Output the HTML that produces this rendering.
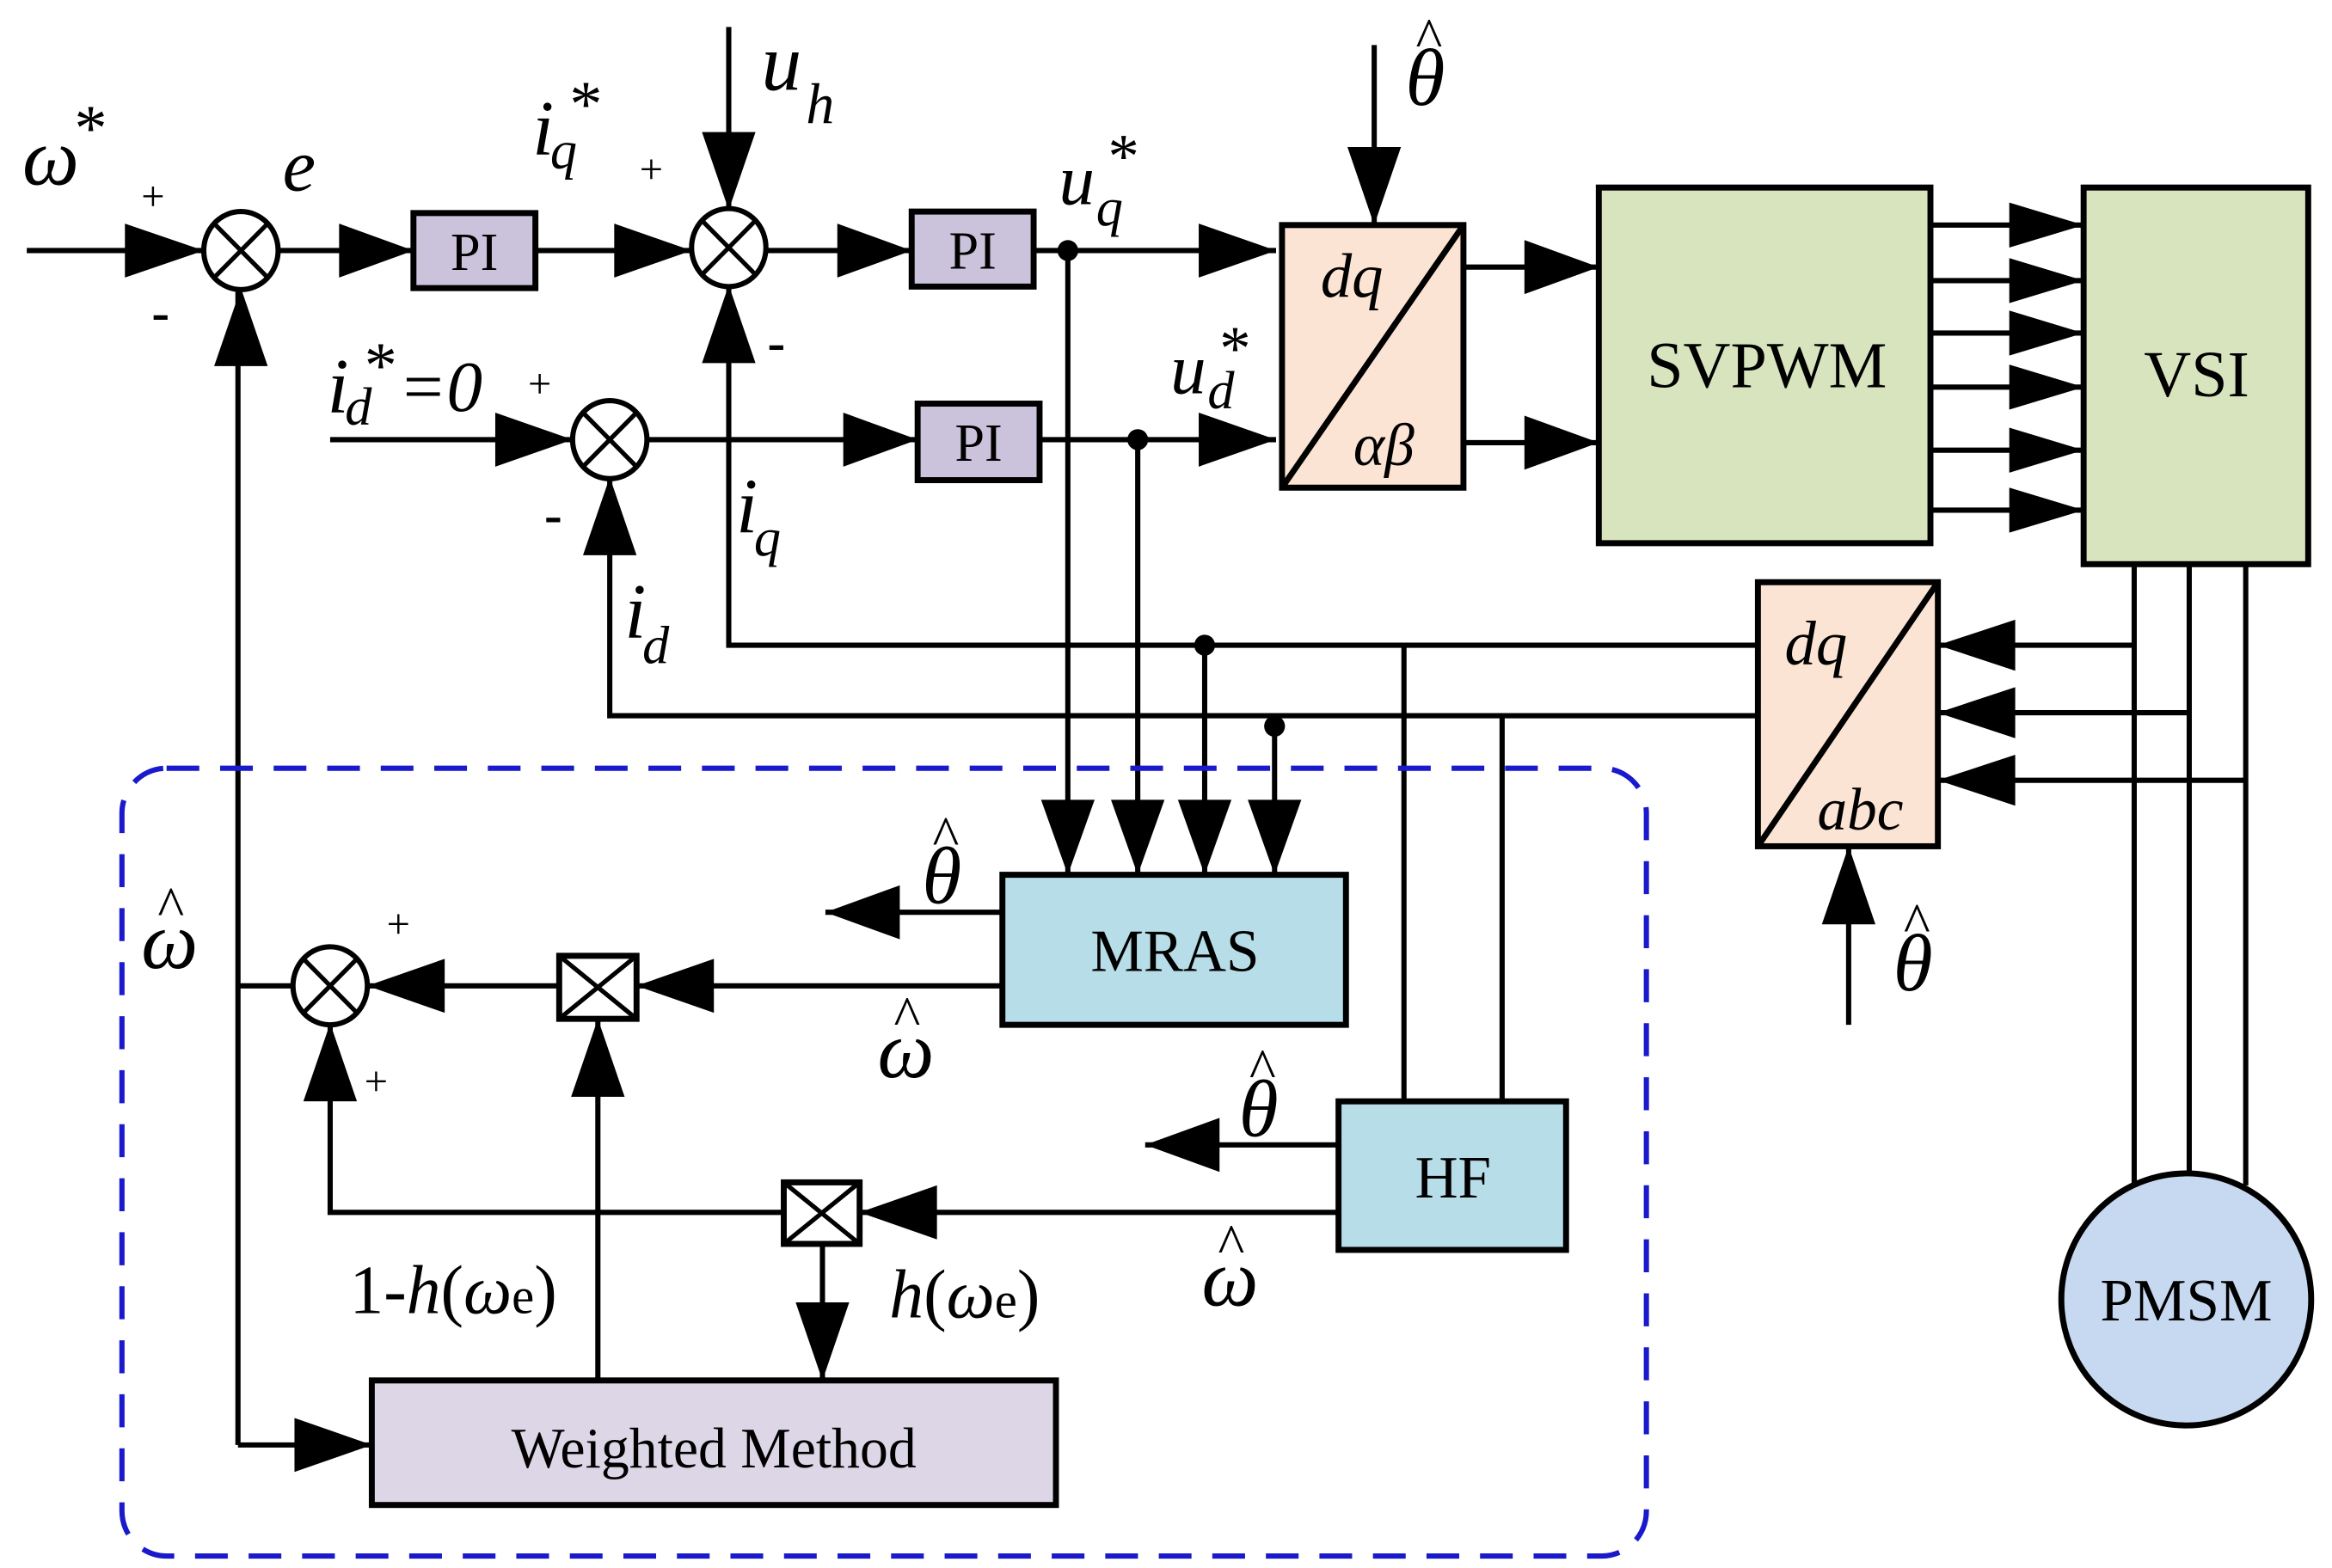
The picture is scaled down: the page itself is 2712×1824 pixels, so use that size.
<!DOCTYPE html>
<html><head><meta charset="utf-8">
<style>
html,body{margin:0;padding:0;background:#fff;}
svg{display:block;}
text{font-family:"Liberation Serif",serif;fill:#000;}
.i{font-style:italic;}
</style></head>
<body>
<svg width="2712" height="1824" viewBox="0 0 1568 1045" preserveAspectRatio="none" xmlns="http://www.w3.org/2000/svg">
<g stroke="#000" stroke-width="3.5" fill="none">
<path d="M18 167H137M187 167H278M360 167H465M515 167H613M695 167H858"/>
<path d="M490 18V140M924 30V150"/>
<path d="M222 293H385M435 293H617M699 293H858"/>
<path d="M984 178H1075M984 295H1075"/>
<path d="M1298 150H1401M1298 187H1401M1298 222H1401M1298 258H1401M1298 300H1401M1298 340H1401"/>
<path d="M1435 376V790M1472 376V782M1510 376V790"/>
<path d="M1435 430H1303M1472 475H1303M1510 520H1303"/>
<path d="M1243 683V564"/>
<path d="M1182 430H490V190M1182 477H410V318"/>
<path d="M718 167V583M765 293V583M810 430V583M857 484V583"/>
<path d="M944 430V734M1010 477V734"/>
<path d="M674 608H555M674 657H428M376 657H247"/>
<path d="M402 920V679"/>
<path d="M900 763H770M900 808H578M527 808H222V682"/>
<path d="M553 829V920"/>
<path d="M197 657H160M160 963V192M160 963H250"/>
</g>
<g fill="#000">
<polygon points="137,167 84,149 84,185"/>
<polygon points="278,167 228,149 228,185"/>
<polygon points="465,167 413,149 413,185"/>
<polygon points="613,167 563,149 563,185"/>
<polygon points="858,167 806,149 806,185"/>
<polygon points="490,140 472,88 508,88"/>
<polygon points="924,150 906,98 942,98"/>
<polygon points="162,192 144,244 180,244"/>
<polygon points="490,190 472,242 508,242"/>
<polygon points="385,293 333,275 333,311"/>
<polygon points="617,293 567,275 567,311"/>
<polygon points="858,293 806,275 806,311"/>
<polygon points="410,318 392,370 428,370"/>
<polygon points="1075,178 1025,160 1025,196"/>
<polygon points="1075,295 1025,277 1025,313"/>
<polygon points="1401,150 1351,135 1351,165"/>
<polygon points="1401,187 1351,172 1351,202"/>
<polygon points="1401,222 1351,207 1351,237"/>
<polygon points="1401,258 1351,243 1351,273"/>
<polygon points="1401,300 1351,285 1351,315"/>
<polygon points="1401,340 1351,325 1351,355"/>
<polygon points="1303,430 1355,413 1355,447"/>
<polygon points="1303,475 1355,458 1355,492"/>
<polygon points="1303,520 1355,503 1355,537"/>
<polygon points="1243,564 1225,616 1261,616"/>
<polygon points="718,583 700,533 736,533"/>
<polygon points="765,583 747,533 783,533"/>
<polygon points="810,583 792,533 828,533"/>
<polygon points="857,583 839,533 875,533"/>
<polygon points="555,608 605,590 605,626"/>
<polygon points="428,657 480,639 480,675"/>
<polygon points="247,657 299,639 299,675"/>
<polygon points="402,679 384,731 420,731"/>
<polygon points="770,763 820,745 820,781"/>
<polygon points="578,808 630,790 630,826"/>
<polygon points="222,682 204,734 240,734"/>
<polygon points="553,920 535,868 571,868"/>
<polygon points="250,963 198,945 198,981"/>
<circle cx="718" cy="167" r="7"/>
<circle cx="765" cy="293" r="7"/>
<circle cx="810" cy="430" r="7"/>
<circle cx="857" cy="484" r="7"/>
</g>
<g stroke="#000" stroke-width="3.5" fill="#fff">
<ellipse cx="162" cy="167" rx="25" ry="26"/>
<ellipse cx="490" cy="165" rx="25" ry="26"/>
<ellipse cx="410" cy="293" rx="25" ry="26"/>
<ellipse cx="222" cy="657" rx="25" ry="26"/>
</g>
<g stroke="#000" stroke-width="3">
<path d="M144 149L180 185M180 149L144 185"/>
<path d="M472 147L508 183M508 147L472 183"/>
<path d="M392 275L428 311M428 275L392 311"/>
<path d="M204 639L240 675M240 639L204 675"/>
</g>
<g stroke="#000" stroke-width="4">
<rect x="278" y="142" width="82" height="50" fill="#cbc3db"/>
<rect x="613" y="141" width="82" height="50" fill="#cbc3db"/>
<rect x="617" y="269" width="82" height="51" fill="#cbc3db"/>
<rect x="862" y="150" width="122" height="175" fill="#fce4d4"/>
<path d="M862 325L984 150" fill="none"/>
<rect x="1075" y="125" width="223" height="237" fill="#d7e4bd"/>
<rect x="1401" y="125" width="151" height="251" fill="#d7e4bd"/>
<rect x="1182" y="388" width="121" height="176" fill="#fce4d4"/>
<path d="M1182 564L1303 388" fill="none"/>
<rect x="674" y="583" width="231" height="100" fill="#b7dde8"/>
<rect x="900" y="734" width="153" height="99" fill="#b7dde8"/>
<rect x="250" y="920" width="460" height="83" fill="#dcd6e6"/>
<circle cx="1470" cy="866" r="84" fill="#c6d9f1"/>
<rect x="376" y="637" width="52" height="42" fill="#fff"/>
<path d="M376 637L428 679M428 637L376 679" fill="none" stroke-width="3"/>
<rect x="527" y="788" width="51" height="41" fill="#fff"/>
<path d="M527 788L578 829M578 788L527 829" fill="none" stroke-width="3"/>
</g>
<rect x="82" y="512" width="1025" height="525" rx="30" ry="30" fill="none" stroke="#1a1acc" stroke-width="3.5" stroke-dasharray="22,14"/>
<g font-size="36">
<text x="319" y="180" text-anchor="middle">PI</text>
<text x="654" y="179" text-anchor="middle">PI</text>
<text x="658" y="307" text-anchor="middle">PI</text>
<text x="1188" y="258" text-anchor="middle" font-size="44">SVPWM</text>
<text x="1477" y="264" text-anchor="middle" font-size="44">VSI</text>
<text x="790" y="647" text-anchor="middle" font-size="40">MRAS</text>
<text x="977" y="798" text-anchor="middle" font-size="40">HF</text>
<text x="480" y="978" text-anchor="middle" font-size="38">Weighted Method</text>
<text x="1470" y="880" text-anchor="middle" font-size="40">PMSM</text>
</g>
<g class="i">
<text x="888" y="198" font-size="42">dq</text>
<text x="910" y="310" font-size="40">αβ</text>
<text x="1200" y="443" font-size="42">dq</text>
<text x="1222" y="553" font-size="40">abc</text>
<text x="15" y="123" font-size="54">ω</text>
<text x="50" y="100" font-size="44" font-style="normal">*</text>
<text x="190" y="127" font-size="50">e</text>
<text x="358" y="103" font-size="52">i</text>
<text x="370" y="112" font-size="36">q</text>
<text x="383" y="84" font-size="44" font-style="normal">*</text>
<text x="512" y="60" font-size="54">u</text>
<text x="542" y="82" font-size="38">h</text>
<text x="712" y="136" font-size="48">u</text>
<text x="737" y="150" font-size="36">q</text>
<text x="745" y="118" font-size="42" font-style="normal">*</text>
<text x="787" y="262" font-size="48">u</text>
<text x="812" y="272" font-size="36">d</text>
<text x="820" y="246" font-size="42" font-style="normal">*</text>
<text x="220" y="275" font-size="52">i</text>
<text x="232" y="283" font-size="36">d</text>
<text x="245" y="258" font-size="44" font-style="normal">*</text>
<text x="268" y="274" font-size="48">=0</text>
<text x="495" y="355" font-size="52">i</text>
<text x="507" y="370" font-size="36">q</text>
<text x="420" y="425" font-size="52">i</text>
<text x="432" y="442" font-size="36">d</text>
<text x="945" y="70" font-size="54">θ</text>
<text x="620" y="602" font-size="54">θ</text>
<text x="1273" y="660" font-size="54">θ</text>
<text x="833" y="757" font-size="54">θ</text>
<text x="95" y="645" font-size="54">ω</text>
<text x="590" y="718" font-size="54">ω</text>
<text x="808" y="870" font-size="54">ω</text>
</g>
<g font-size="38">
<text x="952" y="38">^</text>
<text x="627" y="570">^</text>
<text x="1280" y="628">^</text>
<text x="840" y="725">^</text>
<text x="106" y="617">^</text>
<text x="601" y="690">^</text>
<text x="819" y="842">^</text>
</g>
<g font-size="28">
<text x="95" y="140">+</text>
<text x="430" y="122">+</text>
<text x="355" y="265">+</text>
<text x="260" y="625">+</text>
<text x="245" y="730">+</text>
</g>
<g font-size="36" font-weight="bold">
<text x="102" y="220">-</text>
<text x="516" y="240">-</text>
<text x="366" y="355">-</text>
</g>
<g font-size="46">
<text x="235" y="875">1-<tspan class="i">h</tspan>(<tspan class="i">ω</tspan><tspan font-size="34">e</tspan>)</text>
<text x="598" y="878"><tspan class="i">h</tspan>(<tspan class="i">ω</tspan><tspan font-size="34">e</tspan>)</text>
</g>
</svg>
</body></html>
